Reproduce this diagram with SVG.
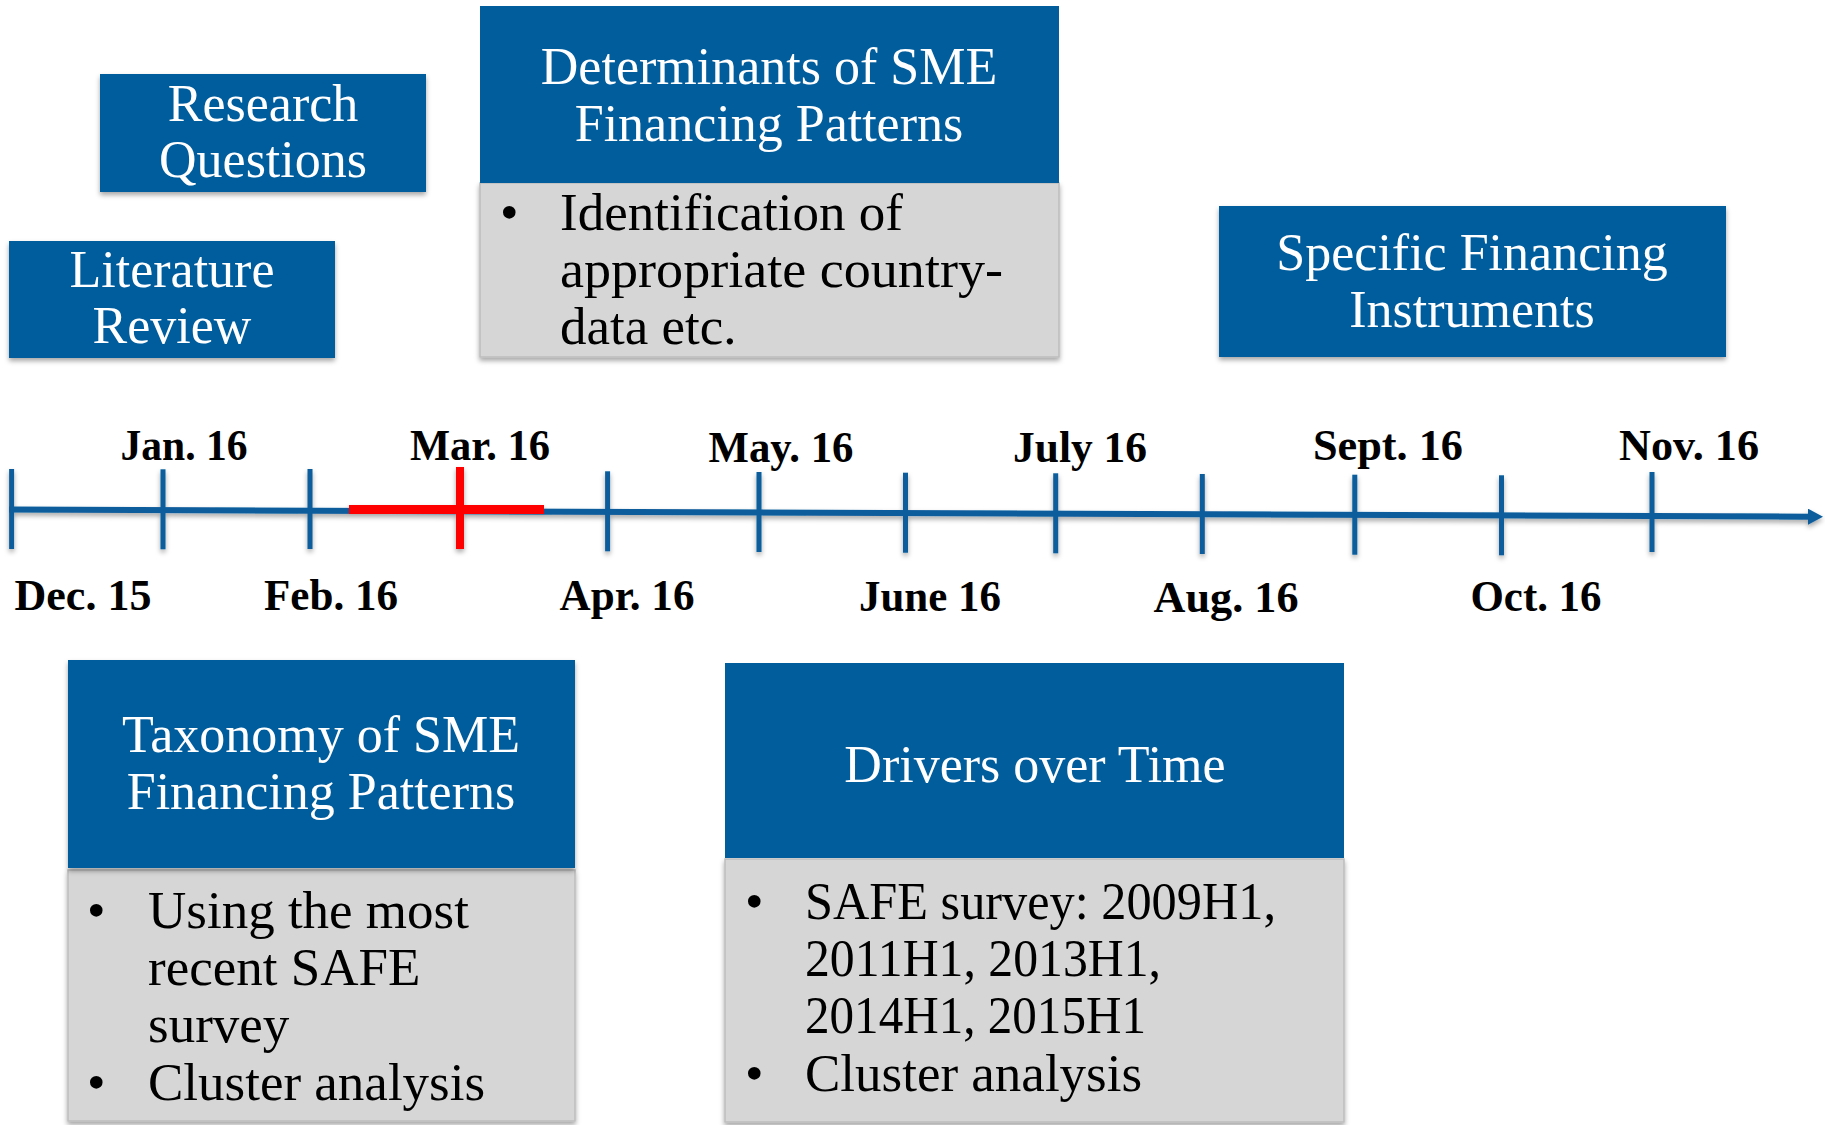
<svg xmlns="http://www.w3.org/2000/svg" width="1825" height="1125" viewBox="0 0 1825 1125">
<defs>
<filter id="sh" x="-5%" y="-5%" width="110%" height="115%">
<feDropShadow dx="0" dy="3" stdDeviation="2.5" flood-color="#000" flood-opacity="0.35"/>
</filter>
<marker id="arr" markerWidth="15" markerHeight="16" refX="4" refY="8" orient="auto" markerUnits="userSpaceOnUse" viewBox="0 0 15 16">
<path d="M0,0 L15,8 L0,16 z" fill="#0A5C9C"/>
</marker>
</defs>
<style>
.blue{fill:#025D9D;}
.grey{fill:#D6D6D6;stroke:#BDBDBD;stroke-width:1.5;}
.hd{font-family:"Liberation Serif",serif;font-size:52px;fill:#fff;text-anchor:middle;}
.bd{font-family:"Liberation Serif",serif;font-size:53px;fill:#000;}
.lb{font-family:"Liberation Serif",serif;font-size:45px;font-weight:bold;fill:#000;text-anchor:middle;}
.tick{stroke:#0A5C9C;stroke-width:5;}
</style>

<g id="research-questions">
<rect class="blue" x="100" y="74" width="326" height="118" filter="url(#sh)"/>
<text class="hd" x="263" y="121">Research</text>
<text class="hd" x="263" y="177">Questions</text>
</g>

<g id="literature-review">
<rect class="blue" x="9" y="241" width="326" height="117" filter="url(#sh)"/>
<text class="hd" x="172" y="287">Literature</text>
<text class="hd" x="172" y="343">Review</text>
</g>

<g id="determinants">
<rect class="grey" x="480" y="183" width="579" height="174" filter="url(#sh)"/>
<rect class="blue" x="480" y="6" width="579" height="177"/>
<text class="hd" x="769" y="84">Determinants of SME</text>
<text class="hd" x="769" y="141">Financing Patterns</text>
<text class="bd" x="500" y="230">•</text>
<text class="bd" x="560" y="230">Identification of</text>
<text class="bd" x="560" y="287" textLength="443" lengthAdjust="spacingAndGlyphs">appropriate country-</text>
<text class="bd" x="560" y="344">data etc.</text>
</g>

<g id="specific-financing">
<rect class="blue" x="1219" y="206" width="507" height="151" filter="url(#sh)"/>
<text class="hd" x="1472" y="270">Specific Financing</text>
<text class="hd" x="1472" y="327">Instruments</text>
</g>

<g id="taxonomy">
<rect class="grey" x="68" y="870" width="507" height="251" filter="url(#sh)"/>
<rect class="blue" x="68" y="660" width="507" height="208" filter="url(#sh)"/>
<text class="hd" x="321" y="752">Taxonomy of SME</text>
<text class="hd" x="321" y="809">Financing Patterns</text>
<text class="bd" x="87" y="928">•</text>
<text class="bd" x="148" y="928">Using the most</text>
<text class="bd" x="148" y="985">recent SAFE</text>
<text class="bd" x="148" y="1042">survey</text>
<text class="bd" x="87" y="1100">•</text>
<text class="bd" x="148" y="1100">Cluster analysis</text>
</g>

<g id="drivers">
<rect class="grey" x="725" y="859" width="619" height="263" filter="url(#sh)"/>
<rect class="blue" x="725" y="663" width="619" height="195"/>
<text class="hd" x="1035" y="782">Drivers over Time</text>
<text class="bd" x="745" y="919">•</text>
<text class="bd" x="805" y="919" textLength="471" lengthAdjust="spacingAndGlyphs">SAFE survey: 2009H1,</text>
<text class="bd" x="805" y="976" textLength="356" lengthAdjust="spacingAndGlyphs">2011H1, 2013H1,</text>
<text class="bd" x="805" y="1033" textLength="341" lengthAdjust="spacingAndGlyphs">2014H1, 2015H1</text>
<text class="bd" x="745" y="1091">•</text>
<text class="bd" x="805" y="1091">Cluster analysis</text>
</g>

<g id="timeline" filter="url(#sh)">
<line x1="9" y1="509.5" x2="1812" y2="516.7" stroke="#0A5C9C" stroke-width="6" marker-end="url(#arr)"/>
<line class="tick" x1="11.6" y1="469" x2="11.6" y2="549"/>
<line class="tick" x1="163" y1="469.3" x2="163" y2="549.3"/>
<line class="tick" x1="310" y1="469" x2="310" y2="549"/>
<line class="tick" x1="607.6" y1="471.3" x2="607.6" y2="551.3"/>
<line class="tick" x1="759" y1="472" x2="759" y2="552"/>
<line class="tick" x1="905.5" y1="472.7" x2="905.5" y2="552.7"/>
<line class="tick" x1="1055.7" y1="473.3" x2="1055.7" y2="553.3"/>
<line class="tick" x1="1202.3" y1="474" x2="1202.3" y2="554"/>
<line class="tick" x1="1354.8" y1="474.7" x2="1354.8" y2="554.7"/>
<line class="tick" x1="1501.5" y1="475.3" x2="1501.5" y2="555.3"/>
<line class="tick" x1="1652" y1="472" x2="1652" y2="552"/>
<line x1="349" y1="509.5" x2="544" y2="509.5" stroke="#FF0000" stroke-width="9"/>
<line x1="460" y1="467" x2="460" y2="549" stroke="#FF0000" stroke-width="8"/>
</g>

<g id="labels">
<text class="lb" x="184" y="460" textLength="127" lengthAdjust="spacingAndGlyphs">Jan. 16</text>
<text class="lb" x="480" y="460" textLength="140" lengthAdjust="spacingAndGlyphs">Mar. 16</text>
<text class="lb" x="781" y="462" textLength="145" lengthAdjust="spacingAndGlyphs">May. 16</text>
<text class="lb" x="1080" y="462" textLength="134" lengthAdjust="spacingAndGlyphs">July 16</text>
<text class="lb" x="1388" y="460" textLength="150" lengthAdjust="spacingAndGlyphs">Sept. 16</text>
<text class="lb" x="1689" y="460" textLength="140" lengthAdjust="spacingAndGlyphs">Nov. 16</text>
<text class="lb" x="83" y="610" textLength="137" lengthAdjust="spacingAndGlyphs">Dec. 15</text>
<text class="lb" x="331" y="610" textLength="134" lengthAdjust="spacingAndGlyphs">Feb. 16</text>
<text class="lb" x="627" y="610" textLength="135" lengthAdjust="spacingAndGlyphs">Apr. 16</text>
<text class="lb" x="930" y="611" textLength="142" lengthAdjust="spacingAndGlyphs">June 16</text>
<text class="lb" x="1226" y="612" textLength="145" lengthAdjust="spacingAndGlyphs">Aug. 16</text>
<text class="lb" x="1536" y="611" textLength="131" lengthAdjust="spacingAndGlyphs">Oct. 16</text>
</g>
</svg>
